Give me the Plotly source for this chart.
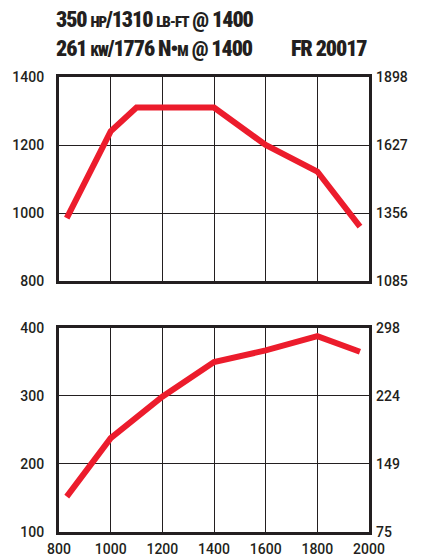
import plotly.graph_objects as go

rpm_torque = [830, 1000, 1100, 1400, 1600, 1800, 1965]
torque_lbft = [985, 1240, 1310, 1310, 1200, 1122, 960]
rpm_power = [830, 1000, 1200, 1400, 1600, 1800, 1965]
power_hp = [152, 238, 299, 350, 367, 388, 365]

x_ticks = [800, 1000, 1200, 1400, 1600, 1800, 2000]
torque_left_ticks = [800, 1000, 1200, 1400]
torque_right_ticks = [1085, 1356, 1627, 1898]
power_left_ticks = [100, 200, 300, 400]
power_right_ticks = [75, 149, 224, 298]

RED = "#EC1C2C"
INK = "#231F20"
TICKFONT = dict(family="Roboto, Liberation Sans, Arial, sans-serif", size=14,
                color=INK, weight=500)

fig = go.Figure()
fig.add_trace(go.Scatter(x=rpm_torque, y=torque_lbft, mode="lines",
                         line=dict(color=RED, width=6), xaxis="x", yaxis="y"))
fig.add_trace(go.Scatter(x=rpm_power, y=power_hp, mode="lines",
                         line=dict(color=RED, width=6), xaxis="x2", yaxis="y2"))
fig.add_trace(go.Scatter(x=[None], y=[None], xaxis="x", yaxis="y3", showlegend=False))
fig.add_trace(go.Scatter(x=[None], y=[None], xaxis="x2", yaxis="y4", showlegend=False))

axis_common = dict(showline=True, linecolor=INK, linewidth=3, mirror=True,
                   showgrid=True, gridcolor=INK, gridwidth=1, zeroline=False,
                   ticks="", tickfont=TICKFONT, automargin=False)
right_common = dict(showgrid=False, showline=False, zeroline=False, ticks="",
                    tickfont=TICKFONT, ticklabelstandoff=6, side="right",
                    automargin=False)

fig.update_layout(
    width=418, height=547,
    margin=dict(l=51, r=57, t=69, b=23),
    paper_bgcolor="white", plot_bgcolor="white",
    showlegend=False,
    xaxis=dict(domain=[0, 1], range=[800, 2000], tickvals=x_ticks, showticklabels=False,
               anchor="y", **axis_common),
    yaxis=dict(domain=[0.5516, 1], range=[800, 1400], tickvals=torque_left_ticks,
               anchor="x", ticklabelstandoff=9, **axis_common),
    yaxis3=dict(domain=[0.5516, 1], range=[1085, 1898], tickvals=torque_right_ticks,
                overlaying="y", anchor="x", **right_common),
    xaxis2=dict(domain=[0, 1], range=[800, 2000], tickvals=x_ticks, anchor="y2",
                ticklabelstandoff=2, **axis_common),
    yaxis2=dict(domain=[0, 0.4484], range=[100, 400], tickvals=power_left_ticks,
                anchor="x2", ticklabelstandoff=9, **axis_common),
    yaxis4=dict(domain=[0, 0.4484], range=[75, 298], tickvals=power_right_ticks,
                overlaying="y2", anchor="x2", **right_common),
)

TFONT = dict(family="Roboto Condensed, Roboto, sans-serif", size=22, color=INK, weight=900)
ST = "letter-spacing:-1.1px"
SM = "letter-spacing:-1.1px;font-size:15px"
fig.add_annotation(xref="paper", yref="paper", x=0, y=1, yshift=58, xshift=-5,
                   xanchor="left", yanchor="middle", align="left", showarrow=False,
                   font=TFONT,
                   text=f"<span style='{ST}'>350 </span><span style='{SM}'>HP</span>"
                        f"<span style='{ST}'>/1310 </span><span style='{SM}'>LB-FT</span>"
                        f"<span style='{ST}'> @ 1400</span>")
fig.add_annotation(xref="paper", yref="paper", x=0, y=1, yshift=29, xshift=-5,
                   xanchor="left", yanchor="middle", align="left", showarrow=False,
                   font=TFONT,
                   text=f"<span style='{ST}'>261 </span><span style='{SM}'>KW</span>"
                        f"<span style='{ST}'>/1776 N•</span><span style='{SM}'>M</span>"
                        f"<span style='{ST}'> @ 1400</span>")
fig.add_annotation(xref="paper", yref="paper", x=1, y=1, yshift=29, xshift=0,
                   xanchor="right", yanchor="middle", align="right", showarrow=False,
                   font=TFONT, text=f"<span style='{ST}'>FR 20017</span>")

fig.write_html("out.html")
